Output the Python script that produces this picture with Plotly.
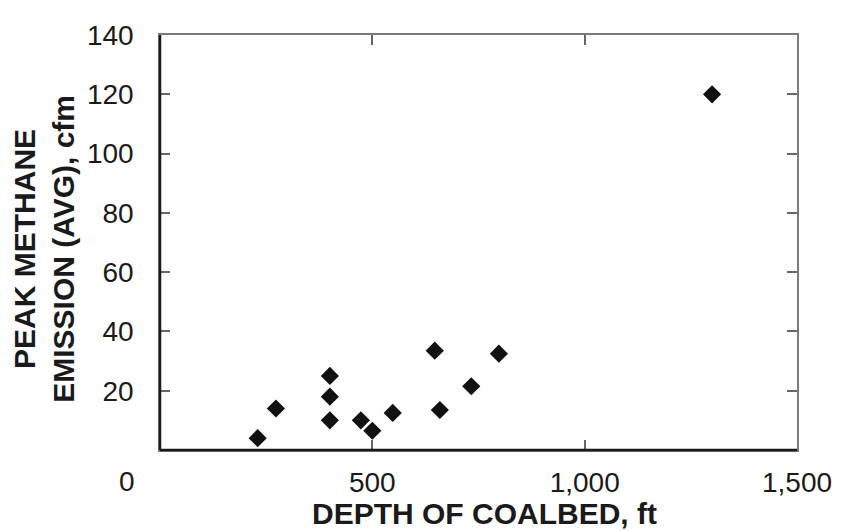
import plotly.graph_objects as go


# --------------------------------------------------------
# DATA
# --------------------------------------------------------

depth_ft = [230, 273, 400, 400, 400, 473, 500, 548, 647, 659, 733, 798, 1300]

peak_emission_cfm = [4, 14, 25, 18, 10, 10, 6.5, 12.5, 33.5, 13.5, 21.5, 32.5, 120]

x_tick_vals = [500, 1000, 1500]
x_tick_text = ["500", "1,000", "1,500"]

y_tick_vals = [20, 40, 60, 80, 100, 120, 140]


# --------------------------------------------------------
# CHART
# --------------------------------------------------------

fig = go.Figure()

fig.add_trace(

    go.Scatter(

        x=depth_ft,

        y=peak_emission_cfm,

        mode="markers",

        marker=dict(
            symbol="diamond",
            size=14,
            color="#111111",
            line=dict(width=0)
        ),

        cliponaxis=False,

        showlegend=False

    )

)

axis_font = dict(family="Liberation Sans, Arial, sans-serif", size=28, color="#1a1a1a")
title_font = dict(family="Liberation Sans, Arial, sans-serif", size=30, color="#1a1a1a")

# page body has an 8px margin, so the figure is sized to fit inside it
fig.update_layout(

    width=836,

    height=523,

    plot_bgcolor="white",

    paper_bgcolor="white",

    margin=dict(l=152, r=43, t=19, b=81),

    font=axis_font

)

fig.update_xaxes(

    range=[0, 1500],

    tickvals=x_tick_vals,

    ticktext=x_tick_text,

    ticks="inside",

    ticklen=10,

    tickwidth=1.5,

    tickcolor="#666666",

    ticklabelstandoff=7,

    showline=True,

    linecolor="#7a7a7a",

    linewidth=1.5,

    mirror="ticks",

    showgrid=False,

    zeroline=False,

    tickfont=axis_font

)

fig.update_yaxes(

    range=[0, 140],

    tickvals=y_tick_vals,

    ticks="inside",

    ticklen=10,

    tickwidth=1.5,

    tickcolor="#666666",

    ticklabelstandoff=19,

    showline=True,

    linecolor="#7a7a7a",

    linewidth=1.5,

    mirror="ticks",

    showgrid=False,

    zeroline=False,

    tickfont=axis_font

)

# darker left / bottom axis lines
fig.add_shape(type="line", xref="paper", yref="paper", x0=0, x1=0, y0=0, y1=1,
              line=dict(color="#1a1a1a", width=2.5))
fig.add_shape(type="line", xref="paper", yref="paper", x0=0, x1=1, y0=0, y1=0,
              line=dict(color="#1a1a1a", width=2.5))

# lone "0" label, offset left of the axis corner
fig.add_annotation(
    text="0", xref="paper", yref="paper", x=-0.0515, y=-0.076,
    xanchor="center", yanchor="middle", showarrow=False, font=axis_font
)

fig.add_annotation(
    text="<b>DEPTH OF COALBED, ft</b>", xref="paper", yref="paper",
    x=0.509, y=-0.152, xanchor="center", yanchor="middle",
    showarrow=False, font=title_font
)

fig.add_annotation(
    text="<b>PEAK METHANE<br>EMISSION (AVG), cfm</b>", xref="paper", yref="paper",
    x=-0.182, y=0.485, xanchor="center", yanchor="middle",
    textangle=-90, showarrow=False, font=title_font
)

fig.write_html("out.html")
